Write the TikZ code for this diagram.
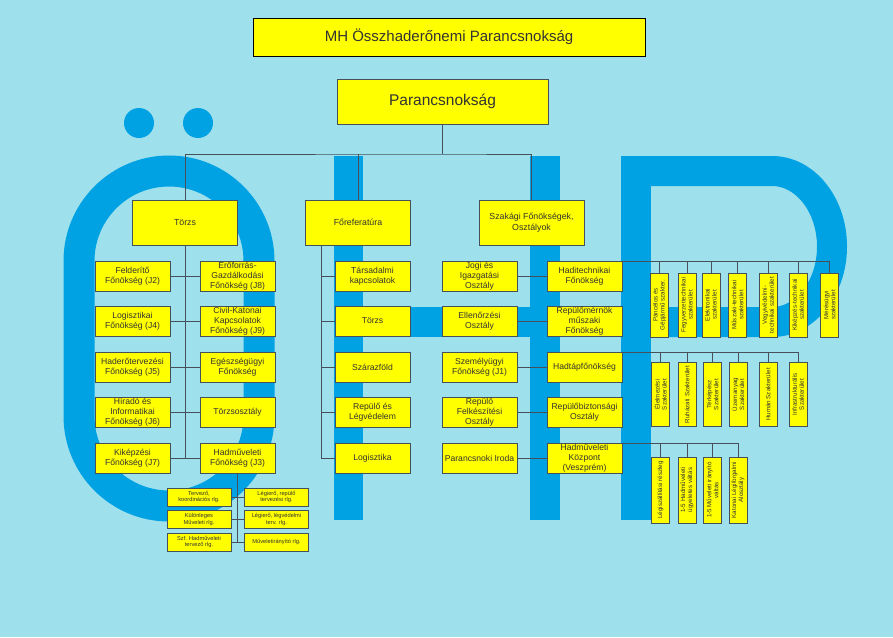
\documentclass[tikz,border=0pt]{standalone}
\usepackage{fontspec}
\setmainfont{Liberation Sans}
\definecolor{bg}{RGB}{158,224,236}
\definecolor{obl}{RGB}{0,162,228}
\definecolor{byel}{RGB}{255,255,0}
\definecolor{lin}{RGB}{70,80,90}
\begin{document}
\begin{tikzpicture}[x=1pt,y=-1pt,
  box/.style={draw=lin, line width=0.5pt, fill=byel, inner sep=0pt, align=center, text=black!80,
    minimum width=75pt, minimum height=30pt, font=\fontsize{8.6}{10}\selectfont},
  big/.style={box, minimum width=105pt, minimum height=45pt, font=\fontsize{8.8}{11}\selectfont},
  sbox/.style={box, minimum width=64pt, minimum height=18pt, font=\fontsize{5.7}{6.8}\selectfont},
  vbox/.style={box, rotate=90, minimum width=64pt, minimum height=18pt, font=\fontsize{6.2}{7}\selectfont},
  conn/.style={draw=lin, line width=0.5pt}]
\useasboundingbox (0,0) rectangle (893,637);
\fill[bg] (0,0) rectangle (893,637);
% background letters
\draw[obl, line width=31pt, rounded corners=90pt] (79,171) rectangle (259,506);
\fill[obl] (139,123) circle (15);
\fill[obl] (198,123) circle (15);
\fill[obl] (334,156) rectangle (363,520);
\fill[obl] (530,156) rectangle (560,520);
\fill[obl] (363,307) rectangle (530,337);
\fill[obl] (621,156) rectangle (651,520);
\draw[obl, line width=30pt] (636,171) -- (772,171) arc[start angle=-90, end angle=90, x radius=60, y radius=75.5] -- (636,322);

% top
\node[box, draw=black, line width=0.8pt, minimum width=392pt, minimum height=38pt, font=\fontsize{15}{18}\selectfont] (title) at (449,37) {MH Összhaderőnemi Parancsnokság};
\node[box, minimum width=211pt, minimum height=45pt, font=\fontsize{15.5}{18}\selectfont] (par) at (442.5,101.5) {Parancsnokság};

\node[big] (torzs) at (185,222.5) {Törzs};
\node[big] (foref) at (358,222.5) {Főreferatúra};
\node[big] (szak) at (531.5,222.5) {Szakági Főnökségek,\\Osztályok};

\coordinate (bus) at (442.5,154);
\draw[conn] (par.south) -- (bus);
\draw[conn] (torzs.north) |- (bus) -| (szak.north);
\draw[conn] (foref.north) -- (foref.north |- bus);

% Torzs children
\node[box] (l1) at (132.5,276) {Felderítő\\Főnökség (J2)};
\node[box] (r1) at (237.5,276) {Erőforrás-\\Gazdálkodási\\Főnökség (J8)};
\node[box] (l2) at (132.5,321) {Logisztikai\\Főnökség (J4)};
\node[box] (r2) at (237.5,321) {Civil-Katonai\\Kapcsolatok\\Főnökség (J9)};
\node[box] (l3) at (132.5,367) {Haderőtervezési\\Főnökség (J5)};
\node[box] (r3) at (237.5,367) {Egészségügyi\\Főnökség};
\node[box] (l4) at (132.5,412) {Híradó és\\Informatikai\\Főnökség (J6)};
\node[box] (r4) at (237.5,412) {Törzsosztály};
\node[box] (l5) at (132.5,458) {Kiképzési\\Főnökség (J7)};
\node[box] (r5) at (237.5,458) {Hadműveleti\\Főnökség (J3)};
\draw[conn] (torzs.south) -- (torzs.south |- l5.east);
\foreach \i in {1,...,5} \draw[conn] (l\i.east) -- (r\i.west);

% small boxes under J3
\node[sbox] (sl1) at (199,497) {Tervező,\\koordinációs rlg.};
\node[sbox] (sr1) at (276.5,497) {Légierő, repülő\\tervezési rlg.};
\node[sbox] (sl2) at (199,519.5) {Különleges\\Műveleti rlg.};
\node[sbox] (sr2) at (276.5,519.5) {Légierő, légvédelmi\\terv. rlg.};
\node[sbox] (sl3) at (199,542) {Szf. Hadműveleti\\tervező rlg.};
\node[sbox] (sr3) at (276.5,542) {Műveletirányító rlg.};
\draw[conn] (r5.south) -- (r5.south |- sl3.east);
\foreach \i in {1,2,3} \draw[conn] (sl\i.east) -- (sr\i.west);

% Foreferatura children
\node[box] (f1) at (372.5,276) {Társadalmi\\kapcsolatok};
\node[box] (f2) at (372.5,321) {Törzs};
\node[box] (f3) at (372.5,367) {Szárazföld};
\node[box] (f4) at (372.5,412) {Repülő és\\Légvédelem};
\node[box] (f5) at (372.5,458) {Logisztika};
\foreach \i in {1,...,5} \draw[conn] ([xshift=-37pt]foref.south) |- (f\i.west);

% Szakagi children
\node[box] (a1) at (479.5,276) {Jogi és\\Igazgatási\\Osztály};
\node[box] (b1) at (584.5,276) {Haditechnikai\\Főnökség};
\node[box] (a2) at (479.5,321) {Ellenőrzési\\Osztály};
\node[box] (b2) at (584.5,321) {Repülőmérnök\\műszaki\\Főnökség};
\node[box] (a3) at (479.5,367) {Személyügyi\\Főnökség (J1)};
\node[box] (b3) at (584.5,367) {Hadtápfőnökség};
\node[box] (a4) at (479.5,412) {Repülő\\Felkészítési\\Osztály};
\node[box] (b4) at (584.5,412) {Repülőbiztonsági\\Osztály};
\node[box] (a5) at (479.5,458) {Parancsnoki Iroda};
\node[box] (b5) at (584.5,458) {Hadműveleti\\Központ\\(Veszprém)};
\foreach \i in {1,...,5} \draw[conn] (a\i.east) -- (b\i.west);

% vertical boxes, top group
\node[vbox] (t1) at (659.5,305) {Páncélos és\\Gépjármű szakter.};
\node[vbox] (t2) at (687,305) {Fegyverzettechnikai\\szakterület};
\node[vbox] (t3) at (711,305) {Elektronikai\\szakterület};
\node[vbox] (t4) at (737.5,305) {Műszaki-technikai\\szakterület};
\node[vbox] (t5) at (768,305) {Vegyivédelmi-\\technikai szakterület};
\node[vbox] (t6) at (798,305) {Kiképzés-technikai\\szakterület};
\node[vbox] (t7) at (829.5,305) {Mérésügyi\\szakterület};
\foreach \i in {1,...,7} \draw[conn] (b1.north east) -| (t\i.east);

% middle group
\node[vbox] (m1) at (660.5,394.5) {Élelmezési\\Szakterület};
\node[vbox] (m2) at (687,394.5) {Ruházati Szakterület};
\node[vbox] (m3) at (712.5,394.5) {Térképész\\Szakterület};
\node[vbox] (m4) at (738,394.5) {Üzemanyag\\Szakterület};
\node[vbox] (m5) at (768,394.5) {Humán Szakterület};
\node[vbox] (m6) at (798,394.5) {Infrastrukturális\\Szakterület};
\foreach \i in {1,...,6} \draw[conn] (b3.north east) -| (m\i.east);

% bottom group
\node[vbox, minimum width=66pt] (k1) at (660.5,490) {Légiszállítási részleg};
\node[vbox, minimum width=66pt] (k2) at (687,490) {1-5 Hadműveleti\\ügyeletes váltás};
\node[vbox, minimum width=66pt] (k3) at (712.5,490) {1-5 Műveleti irányító\\váltás};
\node[vbox, minimum width=66pt] (k4) at (738,490) {Katonai Légiforgalmi\\Alosztály};
\foreach \i in {1,...,4} \draw[conn] (b5.north east) -| (k\i.east);
\end{tikzpicture}
\end{document}
